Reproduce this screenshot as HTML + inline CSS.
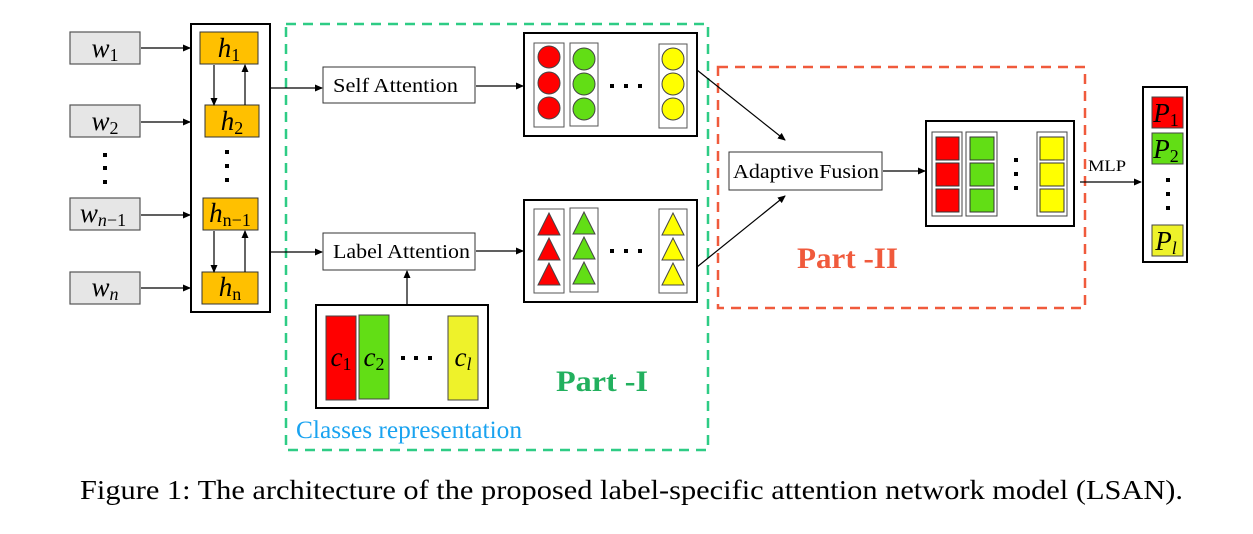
<!DOCTYPE html>
<html><head><meta charset="utf-8"><style>
body{margin:0;background:#fff}
svg text{font-family:"Liberation Serif",serif}
</style></head><body>
<svg width="1253" height="529" viewBox="0 0 1253 529" xmlns="http://www.w3.org/2000/svg">
<defs><marker id="a" markerWidth="8" markerHeight="8" refX="7" refY="4" orient="auto" markerUnits="userSpaceOnUse"><path d="M0,0.5 L8,4 L0,7.5z" fill="#000"/></marker></defs>
<g stroke="#555" stroke-width="1.2" fill="#e6e6e6">
<rect x="70" y="32" width="70" height="32"/><rect x="70" y="105" width="70" height="32"/>
<rect x="70" y="198" width="70" height="32"/><rect x="70" y="272" width="70" height="32"/>
</g>
<g font-style="italic" font-size="27" text-anchor="middle">
<text x="105" y="57">w<tspan font-size="18" dy="4" font-style="normal">1</tspan></text>
<text x="105" y="130">w<tspan font-size="18" dy="4" font-style="normal">2</tspan></text>
<text x="103" y="222">w<tspan font-size="18" dy="4">n</tspan><tspan font-size="18" font-style="normal">−1</tspan></text>
<text x="105" y="296">w<tspan font-size="18" dy="4">n</tspan></text>
</g>
<g fill="#000"><rect x="103" y="153" width="4" height="4"/><rect x="103" y="166" width="4" height="4"/><rect x="103" y="180" width="4" height="4"/>
<rect x="225" y="150" width="4" height="4"/><rect x="225" y="164" width="4" height="4"/><rect x="225" y="178" width="4" height="4"/></g>
<g stroke="#000" stroke-width="1.2" marker-end="url(#a)">
<line x1="141" y1="48" x2="190" y2="48"/><line x1="141" y1="122" x2="190" y2="122"/>
<line x1="141" y1="215" x2="190" y2="215"/><line x1="141" y1="288" x2="190" y2="288"/>
</g>
<rect x="191" y="24" width="79" height="288" fill="none" stroke="#000" stroke-width="2"/>
<g fill="#ffc000" stroke="#333" stroke-width="1">
<rect x="200" y="32" width="58" height="32"/><rect x="205" y="105" width="54" height="32"/>
<rect x="203" y="198" width="55" height="32"/><rect x="202" y="272" width="56" height="32"/>
</g>
<g font-size="27" text-anchor="middle">
<text x="229" y="57" font-style="italic">h<tspan font-size="18" dy="4" font-style="normal">1</tspan></text>
<text x="232" y="130" font-style="italic">h<tspan font-size="18" dy="4" font-style="normal">2</tspan></text>
<text x="230" y="222" font-style="italic">h<tspan font-size="18" dy="4" font-style="normal">n−1</tspan></text>
<text x="230" y="296" font-style="italic">h<tspan font-size="18" dy="4" font-style="normal">n</tspan></text>
</g>
<g stroke="#000" stroke-width="1.2" marker-end="url(#a)">
<line x1="214" y1="65" x2="214" y2="105"/><line x1="245" y1="105" x2="245" y2="65"/>
<line x1="214" y1="231" x2="214" y2="272"/><line x1="245" y1="272" x2="245" y2="231"/>
</g>
<rect x="286" y="24" width="422" height="426" fill="none" stroke="#2ecc85" stroke-width="2.5" stroke-dasharray="10,7"/>
<rect x="718" y="67" width="367" height="241" fill="none" stroke="#f05a3c" stroke-width="2.5" stroke-dasharray="10,7"/>
<g stroke="#000" stroke-width="1.2" fill="none">
<polyline points="270,88 290,88 322,88" marker-end="url(#a)"/>
<polyline points="270,252 322,252" marker-end="url(#a)"/>
<line x1="476" y1="86" x2="523" y2="86" marker-end="url(#a)"/>
<line x1="476" y1="251" x2="523" y2="251" marker-end="url(#a)"/>
<line x1="407" y1="305" x2="407" y2="271" marker-end="url(#a)"/>
<line x1="697" y1="70" x2="785" y2="140" marker-end="url(#a)"/>
<line x1="697" y1="267" x2="785" y2="196" marker-end="url(#a)"/>
<line x1="883" y1="171" x2="925" y2="171" marker-end="url(#a)"/>
<line x1="1080" y1="182" x2="1141" y2="182" marker-end="url(#a)"/>
</g>
<rect x="323" y="67" width="152" height="36" fill="#fff" stroke="#333" stroke-width="1"/>
<text x="333" y="92" font-size="20" textLength="125" lengthAdjust="spacingAndGlyphs">Self Attention</text>
<rect x="323" y="233" width="152" height="37" fill="#fff" stroke="#333" stroke-width="1"/>
<text x="333" y="258" font-size="20" textLength="137" lengthAdjust="spacingAndGlyphs">Label Attention</text>
<rect x="729" y="152" width="153" height="38" fill="#fff" stroke="#333" stroke-width="1"/>
<text x="733" y="178" font-size="20" textLength="146" lengthAdjust="spacingAndGlyphs">Adaptive Fusion</text>
<!-- circles -->
<rect x="524" y="33" width="173" height="103" fill="none" stroke="#000" stroke-width="2"/>
<g fill="none" stroke="#555" stroke-width="1"><rect x="534" y="43" width="30" height="84"/><rect x="570" y="43" width="28" height="83"/><rect x="659" y="44" width="28" height="84"/></g>
<g stroke="#444" stroke-width="1">
<circle cx="549" cy="57" r="11" fill="#f00"/><circle cx="549" cy="83" r="11" fill="#f00"/><circle cx="549" cy="108" r="11" fill="#f00"/>
<circle cx="584" cy="59" r="11" fill="#62de15"/><circle cx="584" cy="84" r="11" fill="#62de15"/><circle cx="584" cy="109" r="11" fill="#62de15"/>
<circle cx="673" cy="59" r="11" fill="#ff0"/><circle cx="673" cy="84" r="11" fill="#ff0"/><circle cx="673" cy="109" r="11" fill="#ff0"/>
</g>
<g fill="#000"><rect x="610" y="84" width="4" height="4"/><rect x="624" y="84" width="4" height="4"/><rect x="638" y="84" width="4" height="4"/>
<rect x="610" y="249" width="4" height="4"/><rect x="624" y="249" width="4" height="4"/><rect x="638" y="249" width="4" height="4"/></g>
<!-- triangles -->
<rect x="524" y="200" width="173" height="102" fill="none" stroke="#000" stroke-width="2"/>
<g fill="none" stroke="#555" stroke-width="1"><rect x="534" y="209" width="30" height="84"/><rect x="570" y="208" width="28" height="84"/><rect x="659" y="209" width="28" height="84"/></g>
<g stroke="#444" stroke-width="1">
<polygon points="549,213 538,235 560,235" fill="#f00"/><polygon points="549,238 538,260 560,260" fill="#f00"/><polygon points="549,263 538,285 560,285" fill="#f00"/>
<polygon points="584,212 573,234 595,234" fill="#62de15"/><polygon points="584,237 573,259 595,259" fill="#62de15"/><polygon points="584,262 573,284 595,284" fill="#62de15"/>
<polygon points="673,213 662,235 684,235" fill="#ff0"/><polygon points="673,238 662,260 684,260" fill="#ff0"/><polygon points="673,263 662,285 684,285" fill="#ff0"/>
</g>
<!-- classes -->
<rect x="316" y="305" width="172" height="103" fill="none" stroke="#000" stroke-width="2"/>
<g stroke="#444" stroke-width="1"><rect x="326" y="316" width="30" height="84" fill="#f00"/><rect x="359" y="315" width="30" height="84" fill="#62de15"/><rect x="448" y="316" width="30" height="84" fill="#eef22a"/></g>
<g font-size="27" font-style="italic" text-anchor="middle">
<text x="341" y="366">c<tspan font-size="18" dy="4" font-style="normal">1</tspan></text>
<text x="374" y="366">c<tspan font-size="18" dy="4" font-style="normal">2</tspan></text>
<text x="463" y="366">c<tspan font-size="18" dy="4">l</tspan></text>
</g>
<g fill="#000"><rect x="401" y="356" width="4" height="4"/><rect x="414" y="356" width="4" height="4"/><rect x="428" y="356" width="4" height="4"/></g>
<text x="296" y="438" font-size="25" fill="#1aa3f0" textLength="226" lengthAdjust="spacingAndGlyphs">Classes representation</text>
<text x="556" y="391" font-size="30" font-weight="bold" fill="#22b05e" textLength="92" lengthAdjust="spacingAndGlyphs">Part -I</text>
<text x="797" y="268" font-size="30" font-weight="bold" fill="#f05a3c" textLength="101" lengthAdjust="spacingAndGlyphs">Part -II</text>
<!-- fusion output -->
<rect x="926" y="121" width="148" height="105" fill="none" stroke="#000" stroke-width="2"/>
<g fill="none" stroke="#444" stroke-width="1"><rect x="932" y="132" width="30" height="84"/><rect x="966" y="132" width="31" height="84"/><rect x="1037" y="132" width="30" height="84"/></g>
<g stroke="#333" stroke-width="1">
<rect x="936" y="137" width="23" height="23" fill="#f00"/><rect x="936" y="163" width="23" height="23" fill="#f00"/><rect x="936" y="189" width="23" height="23" fill="#f00"/>
<rect x="970" y="137" width="24" height="23" fill="#62de15"/><rect x="970" y="163" width="24" height="23" fill="#62de15"/><rect x="970" y="189" width="24" height="23" fill="#62de15"/>
<rect x="1040" y="137" width="24" height="23" fill="#ff0"/><rect x="1040" y="163" width="24" height="23" fill="#ff0"/><rect x="1040" y="189" width="24" height="23" fill="#ff0"/>
</g>
<g fill="#000"><rect x="1014" y="158" width="4" height="4"/><rect x="1014" y="172" width="4" height="4"/><rect x="1014" y="186" width="4" height="4"/>
<rect x="1166" y="178" width="4" height="4"/><rect x="1166" y="192" width="4" height="4"/><rect x="1166" y="206" width="4" height="4"/></g>
<text x="1088" y="171" font-size="16" textLength="38" lengthAdjust="spacingAndGlyphs">MLP</text>
<rect x="1143" y="87" width="44" height="175" fill="none" stroke="#000" stroke-width="2"/>
<g stroke="#444" stroke-width="1"><rect x="1152" y="97" width="31" height="31" fill="#f00"/><rect x="1152" y="133" width="31" height="31" fill="#62de15"/><rect x="1152" y="225" width="31" height="31" fill="#eef22a"/></g>
<g font-size="27" font-style="italic" text-anchor="middle">
<text x="1166" y="122">P<tspan font-size="18" dy="4" font-style="normal">1</tspan></text>
<text x="1166" y="158">P<tspan font-size="18" dy="4" font-style="normal">2</tspan></text>
<text x="1166" y="250">P<tspan font-size="18" dy="4">l</tspan></text>
</g>
<text x="80" y="499" font-size="27" textLength="1103" lengthAdjust="spacingAndGlyphs">Figure 1: The architecture of the proposed label-specific attention network model (LSAN).</text>
</svg>
</body></html>
